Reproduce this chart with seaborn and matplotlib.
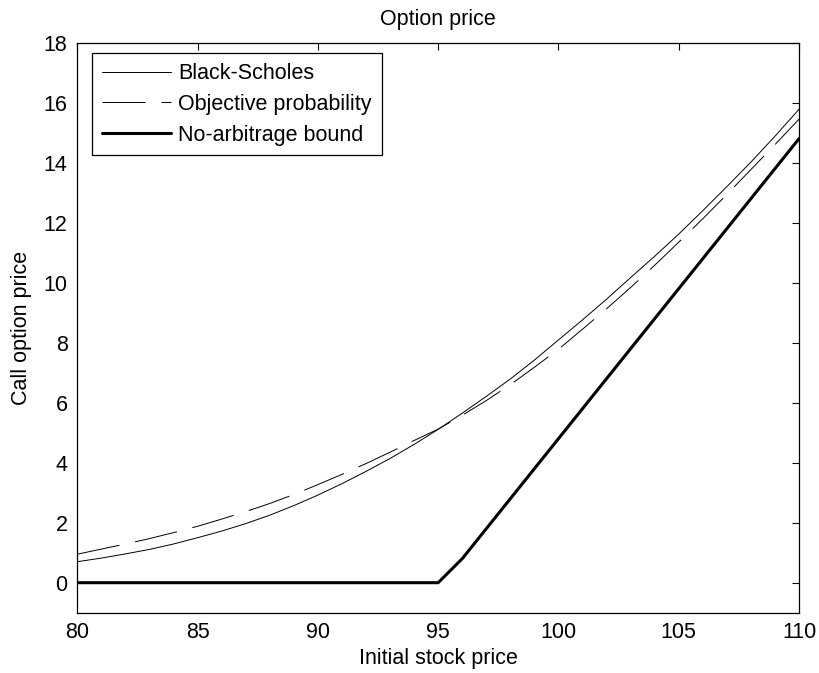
import numpy as np
import pandas as pd
import matplotlib
matplotlib.use("Agg")
import matplotlib.pyplot as plt
import seaborn as sns

stock_price = list(range(80, 111))
black_scholes = [0.70, 0.82, 0.96, 1.11, 1.29, 1.50, 1.72, 1.97, 2.25, 2.57, 2.92,
                 3.30, 3.71, 4.14, 4.61, 5.11, 5.65, 6.21, 6.79, 7.42, 8.09,
                 8.76, 9.45, 10.17, 10.88, 11.62, 12.40, 13.20, 14.02, 14.88, 15.78]
objective = [0.95, 1.12, 1.29, 1.47, 1.67, 1.88, 2.12, 2.37, 2.64, 2.94, 3.27,
             3.61, 3.97, 4.35, 4.74, 5.12, 5.58, 6.07, 6.60, 7.18, 7.78,
             8.45, 9.13, 9.84, 10.58, 11.35, 12.13, 12.94, 13.77, 14.60, 15.45]
bound = [0, 0, 0, 0, 0, 0, 0, 0, 0, 0, 0, 0, 0, 0, 0, 0,
         0.8, 1.8, 2.8, 3.8, 4.8, 5.8, 6.8, 7.8, 8.8, 9.8, 10.8, 11.8, 12.8, 13.8, 14.8]
series_names = ["Black-Scholes", "Objective probability", "No-arbitrage bound"]
x_ticks = [80, 85, 90, 95, 100, 105, 110]
y_ticks = [0, 2, 4, 6, 8, 10, 12, 14, 16, 18]

sns.set_theme(style="white")
plt.rcParams['font.family'] = ['Liberation Sans', 'DejaVu Sans']
plt.rcParams['lines.scale_dashes'] = False
for k in ['text.color', 'axes.labelcolor', 'xtick.color', 'ytick.color']:
    plt.rcParams[k] = 'black'

FS = 15.5

df = pd.DataFrame({
    "S": stock_price * 3,
    "price": black_scholes + objective + bound,
    "series": [series_names[0]] * len(stock_price)
              + [series_names[1]] * len(stock_price)
              + [series_names[2]] * len(stock_price),
})

fig = plt.figure(figsize=(8.2, 6.73), dpi=100)
ax = fig.add_axes([0.0943, 0.0896, 0.8801, 0.847])

sns.lineplot(data=df, x="S", y="price", hue="series", style="series", size="series",
             hue_order=series_names, style_order=series_names, size_order=series_names,
             palette={n: "black" for n in series_names},
             dashes={series_names[0]: "", series_names[1]: (31, 11.5), series_names[2]: ""},
             sizes={series_names[0]: 0.7, series_names[1]: 0.7, series_names[2]: 2.2},
             ax=ax, legend=True)

ax.set_xlim(80, 110)
ax.set_ylim(-1, 18)
ax.set_xticks(x_ticks)
ax.set_yticks(y_ticks)
ax.tick_params(direction="in", length=5, width=0.8, top=True, right=True,
               labelsize=FS, colors="black", pad=7)
for s in ax.spines.values():
    s.set_visible(True)
    s.set_color("black")
    s.set_linewidth(0.9)

ax.set_title("Option price", fontsize=FS, pad=13)
ax.set_xlabel("Initial stock price", fontsize=FS, labelpad=3)
ax.set_ylabel("Call option price", fontsize=FS, labelpad=8)

handles, labels = ax.get_legend_handles_labels()
leg = ax.legend(handles[-3:] if len(handles) > 3 else handles,
                labels[-3:] if len(labels) > 3 else labels,
                loc="upper left", bbox_to_anchor=(0.0208, 0.981), borderaxespad=0,
                fontsize=FS, frameon=True, fancybox=False, framealpha=1,
                edgecolor="black", handlelength=3.2, handletextpad=0.35,
                labelspacing=0.45, borderpad=0.45)
leg.get_frame().set_linewidth(0.9)

fig.savefig("out.png", dpi=100)
